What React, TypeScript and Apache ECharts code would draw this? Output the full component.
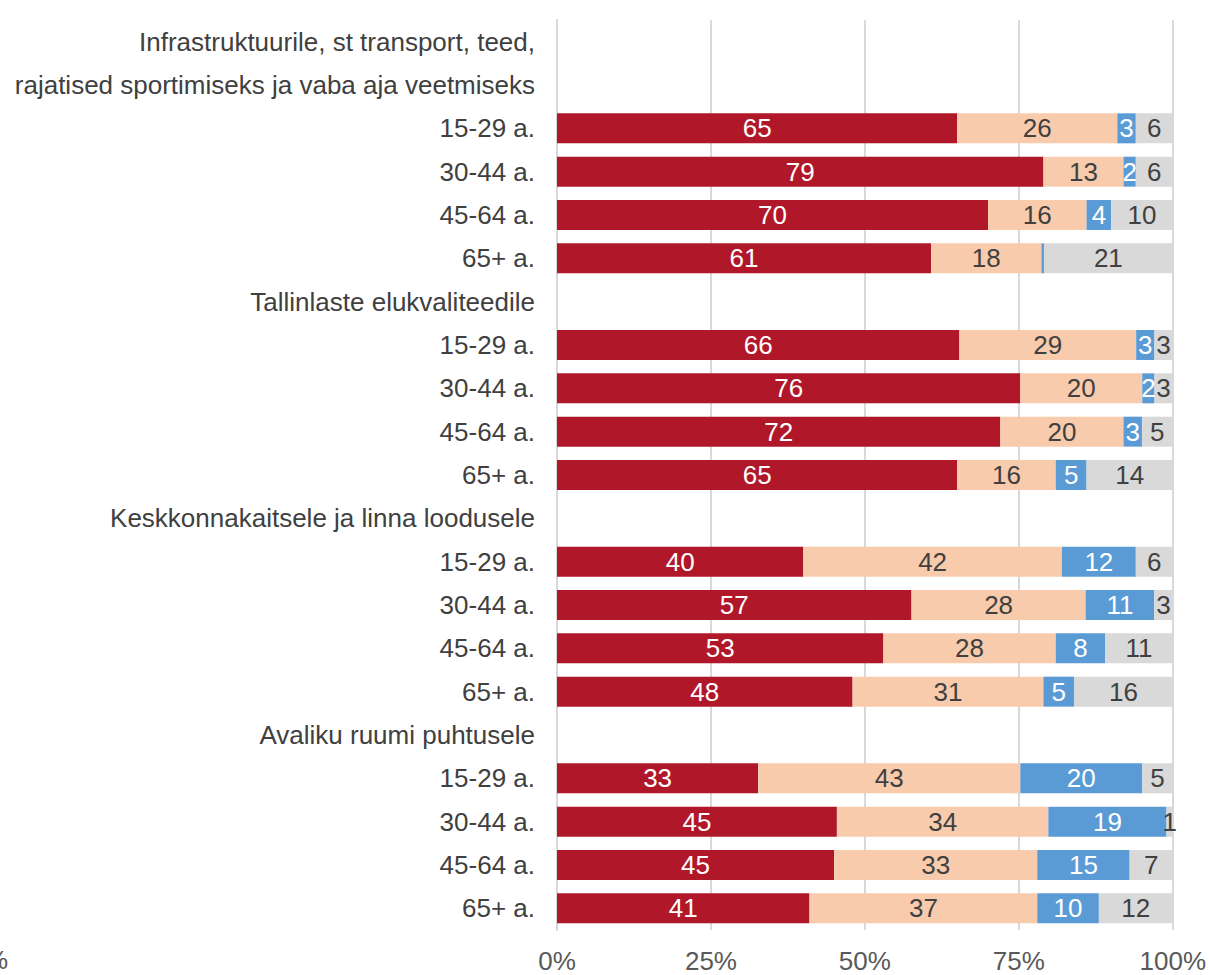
import React, { useEffect, useRef } from "react";
import * as echarts from "echarts";

// Row labels, top to bottom (group headings have no bars)
const categories = [
  "Infrastruktuurile, st transport, teed,",
  "rajatised sportimiseks ja vaba aja veetmiseks",
  "15-29 a.",
  "30-44 a.",
  "45-64 a.",
  "65+ a.",
  "Tallinlaste elukvaliteedile",
  "15-29 a.",
  "30-44 a.",
  "45-64 a.",
  "65+ a.",
  "Keskkonnakaitsele ja linna loodusele",
  "15-29 a.",
  "30-44 a.",
  "45-64 a.",
  "65+ a.",
  "Avaliku ruumi puhtusele",
  "15-29 a.",
  "30-44 a.",
  "45-64 a.",
  "65+ a.",
];

const redValues = [null, null, 65, 79, 70, 61, null, 66, 76, 72, 65, null, 40, 57, 53, 48, null, 33, 45, 45, 41];
const peachValues = [null, null, 26, 13, 16, 18, null, 29, 20, 20, 16, null, 42, 28, 28, 31, null, 43, 34, 33, 37];
const blueValues = [null, null, 3, 2, 4, 0.4, null, 3, 2, 3, 5, null, 12, 11, 8, 5, null, 20, 19, 15, 10];
const grayValues = [null, null, 6, 6, 10, 21, null, 3, 3, 5, 14, null, 6, 3, 11, 16, null, 5, 1, 7, 12];

const xTicks = [0, 25, 50, 75, 100];

const seriesDefs = [
  { name: "s1", values: redValues, color: "#B01729", labelColor: "#ffffff" },
  { name: "s2", values: peachValues, color: "#F8CBAD", labelColor: "#404040" },
  { name: "s3", values: blueValues, color: "#5B9BD5", labelColor: "#ffffff" },
  { name: "s4", values: grayValues, color: "#D9D9D9", labelColor: "#404040" },
];

const FONT = "Liberation Sans, Arial, sans-serif";
const FS = 26;

export default function App() {
  const ref = useRef<HTMLDivElement>(null);

  useEffect(() => {
    if (!ref.current) return;
    const chart = echarts.init(ref.current, null, { renderer: "svg" });

    // row totals for a 100% stacked layout
    const totals = categories.map((_, i) =>
      seriesDefs.reduce((s, d) => s + (d.values[i] ?? 0), 0)
    );

    const series = seriesDefs.map((d) => ({
      name: d.name,
      type: "bar",
      stack: "total",
      barWidth: 30,
      itemStyle: { color: d.color },
      data: d.values.map((v, i) =>
        v == null ? null : { value: (v / totals[i]) * 100, raw: v }
      ),
      label: {
        show: true,
        position: "inside",
        color: d.labelColor,
        fontSize: FS,
        fontFamily: FONT,
        formatter: (p: any) => {
          const raw = p.data && p.data.raw;
          return raw == null || raw < 1 ? "" : String(raw);
        },
      },
    }));

    chart.setOption({
      animation: false,
      grid: { left: 557, right: 36, top: 20, bottom: 45 },
      xAxis: {
        type: "value",
        min: 0,
        max: 100,
        interval: 25,
        axisLine: { show: false },
        axisTick: { show: false },
        splitLine: { show: true, lineStyle: { color: "#D9D9D9", width: 2 } },
        axisLabel: {
          margin: 18,
          color: "#595959",
          fontSize: FS,
          fontFamily: FONT,
          formatter: (v: number) => (xTicks.includes(v) ? v + "%" : ""),
        },
      },
      yAxis: {
        type: "category",
        inverse: true,
        data: categories,
        axisLine: { show: true, lineStyle: { color: "#D9D9D9", width: 2 } },
        axisTick: { show: false },
        axisLabel: {
          margin: 22,
          color: "#404040",
          fontSize: FS,
          fontFamily: FONT,
        },
      },
      graphic: [
        {
          type: "text",
          left: -15,
          top: 947,
          style: { text: "%", fontSize: FS, fontFamily: FONT, fill: "#595959" },
        },
      ],
      series,
    });

    return () => chart.dispose();
  }, []);

  return (
    <div
      ref={ref}
      style={{ position: "fixed", left: 0, top: 0, width: 1209, height: 975, background: "#fff" }}
    />
  );
}
